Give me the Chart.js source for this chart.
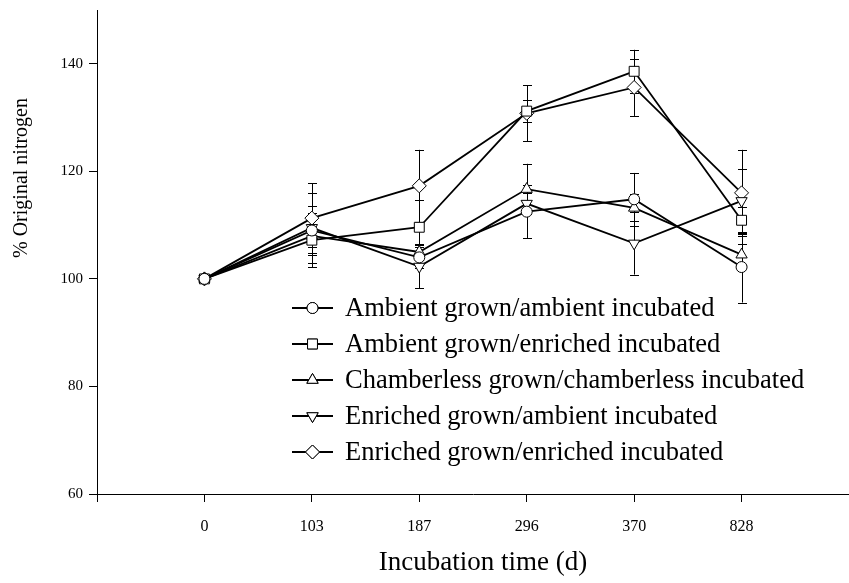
<!DOCTYPE html>
<html><head><meta charset="utf-8">
<script src="https://cdn.jsdelivr.net/npm/chart.js@4/dist/chart.umd.min.js"></script>
<style>html,body{margin:0;padding:0;background:#fff}#wrap{position:relative;width:849px;height:583px}</style>
</head><body><div id="wrap"><canvas id="c" width="849" height="583"></canvas></div>
<script>
const categories = ['0', '103', '187', '296', '370', '828'];
const seriesNames = [
  'Ambient grown/ambient incubated',
  'Ambient grown/enriched incubated',
  'Chamberless grown/chamberless incubated',
  'Enriched grown/ambient incubated',
  'Enriched grown/enriched incubated'
];
const ambientAmbient      = [100, 109.0, 104.0, 112.5, 114.8, 102.2];
const ambientAmbientErr   = [0, 4.5, 2.0, 4.9, 4.9, 6.6];
const ambientEnriched     = [100, 107.2, 109.6, 131.2, 138.6, 110.9];
const ambientEnrichedErr  = [0, 5.0, 5.0, 2.0, 4.0, 2.5];
const chamberless         = [100, 108.0, 105.0, 116.7, 113.2, 104.5];
const chamberlessErr      = [0, 2.0, 1.5, 4.7, 2.5, 2.0];
const enrichedAmbient     = [100, 109.5, 102.3, 114.0, 106.6, 114.5];
const enrichedAmbientErr  = [0, 6.5, 4.0, 2.0, 5.8, 6.0];
const enrichedEnriched    = [100, 111.3, 117.3, 130.8, 135.6, 116.0];
const enrichedEnrichedErr = [0, 6.5, 6.7, 5.2, 5.3, 8.0];
const yTicks = [60, 80, 100, 120, 140];

const values = [ambientAmbient, ambientEnriched, chamberless, enrichedAmbient, enrichedEnriched];
const errors = [ambientAmbientErr, ambientEnrichedErr, chamberlessErr, enrichedAmbientErr, enrichedEnrichedErr];
const markers = [
  {pointStyle: 'circle', radius: 5.5, rotation: 0},
  {pointStyle: 'rect', radius: 7, rotation: 0},
  {pointStyle: 'triangle', radius: 6.5, rotation: 0},
  {pointStyle: 'triangle', radius: 6.5, rotation: 180},
  {pointStyle: 'rectRot', radius: 7, rotation: 0}
];
const SERIF = "'Liberation Serif', 'DejaVu Serif', serif";

const datasets = values.map((vals, i) => ({
  label: seriesNames[i],
  data: vals.map((v, j) => ({x: j, y: v})),
  errs: errors[i],
  borderColor: '#000',
  borderWidth: 1.8,
  backgroundColor: '#fff',
  pointStyle: markers[i].pointStyle,
  pointRadius: markers[i].radius,
  pointRotation: markers[i].rotation,
  pointBackgroundColor: '#fff',
  pointBorderColor: '#000',
  pointBorderWidth: 1,
  tension: 0,
  fill: false
}));

// stretch the plot area to the canvas' right edge, as in the original figure
const fullWidth = {
  id: 'fullWidth',
  afterLayout(chart) {
    const a = chart.chartArea, s = chart.scales.x;
    a.right = chart.width;
    a.width = a.right - a.left;
    s.right = chart.width;
    s.width = s.right - s.left;
    s.configure();
  }
};

const errorBars = {
  id: 'errorBars',
  beforeDatasetsDraw(chart) {
    const ctx = chart.ctx, xs = chart.scales.x, ys = chart.scales.y;
    ctx.save();
    ctx.strokeStyle = '#000';
    ctx.lineWidth = 1;
    chart.data.datasets.forEach(ds => {
      ds.data.forEach((p, j) => {
        const e = ds.errs[j];
        if (!e) return;
        const x = Math.round(xs.getPixelForValue(p.x)) + 0.5;
        const y1 = ys.getPixelForValue(p.y + e), y2 = ys.getPixelForValue(p.y - e);
        ctx.beginPath();
        ctx.moveTo(x, y1); ctx.lineTo(x, y2);
        ctx.moveTo(x - 4.5, Math.round(y1) + 0.5); ctx.lineTo(x + 4.5, Math.round(y1) + 0.5);
        ctx.moveTo(x - 4.5, Math.round(y2) + 0.5); ctx.lineTo(x + 4.5, Math.round(y2) + 0.5);
        ctx.stroke();
      });
    });
    ctx.restore();
  }
};

const decorations = {
  id: 'decorations',
  afterDraw(chart) {
    const ctx = chart.ctx, a = chart.chartArea;
    ctx.save();
    ctx.fillStyle = '#000';
    ctx.textAlign = 'center';
    ctx.textBaseline = 'middle';
    ctx.font = '27px ' + SERIF;
    ctx.fillText('Incubation time (d)', 483, 563);
    ctx.save();
    ctx.translate(22, 178);
    ctx.rotate(-Math.PI / 2);
    ctx.font = '20px ' + SERIF;
    ctx.fillText('% Original nitrogen', 0, 0);
    ctx.restore();
    // legend
    const lx = a.left + 195, ly = a.top + 298, step = 36;
    ctx.font = '26.5px ' + SERIF;
    ctx.textAlign = 'left';
    chart.data.datasets.forEach((ds, i) => {
      const y = ly + i * step;
      ctx.strokeStyle = '#000';
      ctx.lineWidth = 1.8;
      ctx.beginPath();
      ctx.moveTo(lx, y); ctx.lineTo(lx + 41, y);
      ctx.stroke();
      ctx.fillStyle = '#fff';
      ctx.lineWidth = 1;
      Chart.helpers.drawPoint(ctx, {pointStyle: ds.pointStyle, radius: ds.pointRadius, rotation: ds.pointRotation, borderWidth: 1}, lx + 20.5, y);
      ctx.fill();
      ctx.stroke();
      ctx.fillStyle = '#000';
      ctx.fillText(ds.label, lx + 53, y + 1);
    });
    ctx.restore();
  }
};

new Chart(document.getElementById('c'), {
  type: 'line',
  data: {datasets},
  options: {
    responsive: false,
    animation: false,
    devicePixelRatio: 1,
    layout: {padding: {top: 10, right: 0, left: 0, bottom: 0}},
    plugins: {legend: {display: false}, tooltip: {enabled: false}},
    scales: {
      x: {
        type: 'linear', min: -1, max: 6,
        afterFit(s) { s.height = 89; s.paddingLeft = 0; s.paddingRight = 0; },
        afterBuildTicks(s) { s.ticks = [-1, 0, 1, 2, 3, 4, 5, 6].map(v => ({value: v})); },
        ticks: {
          stepSize: 1, padding: 15, color: '#000', maxRotation: 0,
          font: {family: SERIF, size: 16},
          callback: v => (categories[v] !== undefined ? categories[v] : '')
        },
        grid: {
          drawOnChartArea: false, drawTicks: true, tickLength: 8,
          color: '#000', tickColor: c => (c.tick && c.tick.value === 6 ? 'rgba(0,0,0,0)' : '#000')
        },
        border: {color: '#000', width: 1}
      },
      y: {
        type: 'linear', min: 60, max: 150,
        afterFit(s) { s.width = 97; s.paddingTop = 0; s.paddingBottom = 0; },
        afterBuildTicks(s) { s.ticks = yTicks.map(v => ({value: v})); },
        ticks: {
          stepSize: 20, padding: 6, color: '#000',
          font: {family: SERIF, size: 15}
        },
        grid: {drawOnChartArea: false, drawTicks: true, tickLength: 8, color: '#000'},
        border: {color: '#000', width: 1}
      }
    }
  },
  plugins: [fullWidth, errorBars, decorations]
});
</script>
</body></html>
